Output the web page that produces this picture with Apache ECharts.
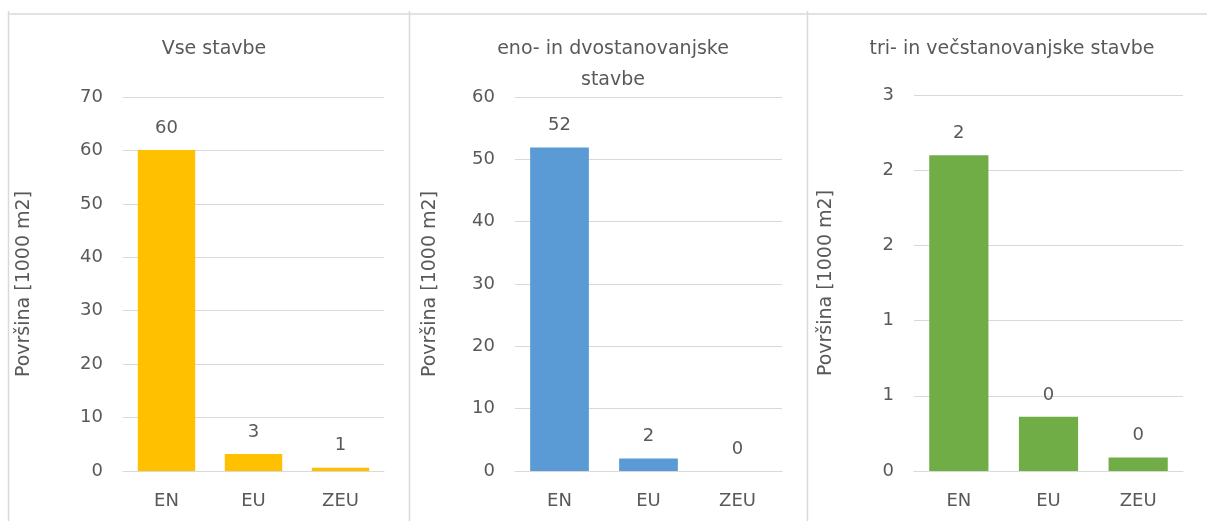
<!DOCTYPE html>
<html>
<head>
<meta charset="utf-8">
<script src="https://cdn.jsdelivr.net/npm/echarts@6/dist/echarts.min.js"></script>
<style>
  html, body { margin: 0; padding: 0; background: #fff; }
  #main { width: 1207px; height: 521px; }
</style>
</head>
<body>
<div id="main"></div>
<script>
// podatki
var categories = ['EN', 'EU', 'ZEU'];
var titles = ['Vse stavbe', 'eno- in dvostanovanjske\nstavbe', 'tri- in večstanovanjske stavbe'];
var vseStavbe = [60.1, 3.2, 0.6];
var enoDvo = [51.9, 2.0, 0.02];
var triVec = [2.1, 0.36, 0.09];
var yMax = [70, 60, 2.5];
var yInterval = [10, 10, 0.5];
var axisName = 'Površina [1000 m2]';
var colors = ['#FFC000', '#5B9BD5', '#70AD47'];

var seriesData = [vseStavbe, enoDvo, triVec];

// postavitev panelov
var gridPos = [
  { left: 123, top: 97, width: 261, height: 374 },
  { left: 515, top: 97, width: 267, height: 374 },
  { left: 914, top: 95, width: 269, height: 376 }
];
var titleX = [209, 608, 1007];
var nameGaps = [89, 75, 78];

var font = 'DejaVu Sans';
var txt = '#595959';
var lineCol = '#D9D9D9';

var myChart = echarts.init(document.getElementById('main'));

var option = {
  animation: false,
  backgroundColor: '#fff',
  title: titles.map(function (t, i) {
    return {
      text: t,
      left: titleX[i],
      top: 29,
      textAlign: 'center',
      textStyle: { fontFamily: font, fontSize: 19, fontWeight: 'normal', color: txt, lineHeight: 31 }
    };
  }),
  grid: gridPos,
  xAxis: gridPos.map(function (g, i) {
    return {
      type: 'category',
      gridIndex: i,
      data: categories,
      axisLine: { lineStyle: { color: lineCol } },
      axisTick: { show: false },
      axisLabel: { fontFamily: font, fontSize: 18, color: txt, margin: 21 }
    };
  }),
  yAxis: gridPos.map(function (g, i) {
    return {
      type: 'value',
      gridIndex: i,
      min: 0,
      max: yMax[i],
      interval: yInterval[i],
      name: axisName,
      nameLocation: 'middle',
      nameGap: nameGaps[i],
      nameTextStyle: { fontFamily: font, fontSize: 19, color: txt },
      axisLine: { show: false },
      axisTick: { show: false },
      splitLine: { lineStyle: { color: lineCol } },
      axisLabel: {
        fontFamily: font, fontSize: 18, color: txt, margin: 20,
        formatter: function (v) { return Math.round(v); }
      }
    };
  }),
  series: seriesData.map(function (d, i) {
    return {
      type: 'bar',
      xAxisIndex: i,
      yAxisIndex: i,
      data: d,
      barCategoryGap: '34%',
      itemStyle: { color: colors[i] },
      label: {
        show: true,
        position: 'top',
        distance: 13,
        fontFamily: font,
        fontSize: 18,
        color: txt,
        formatter: function (p) { return Math.round(p.value); }
      }
    };
  }),
  graphic: [
    { type: 'line', shape: { x1: 8, y1: 14, x2: 1207, y2: 14 }, style: { stroke: lineCol, lineWidth: 1.5 }, silent: true },
    { type: 'line', shape: { x1: 8.5, y1: 11, x2: 8.5, y2: 521 }, style: { stroke: lineCol, lineWidth: 1.5 }, silent: true },
    { type: 'line', shape: { x1: 409.5, y1: 11, x2: 409.5, y2: 521 }, style: { stroke: lineCol, lineWidth: 1.5 }, silent: true },
    { type: 'line', shape: { x1: 807.5, y1: 11, x2: 807.5, y2: 521 }, style: { stroke: lineCol, lineWidth: 1.5 }, silent: true }
  ]
};

myChart.setOption(option);
</script>
</body>
</html>
